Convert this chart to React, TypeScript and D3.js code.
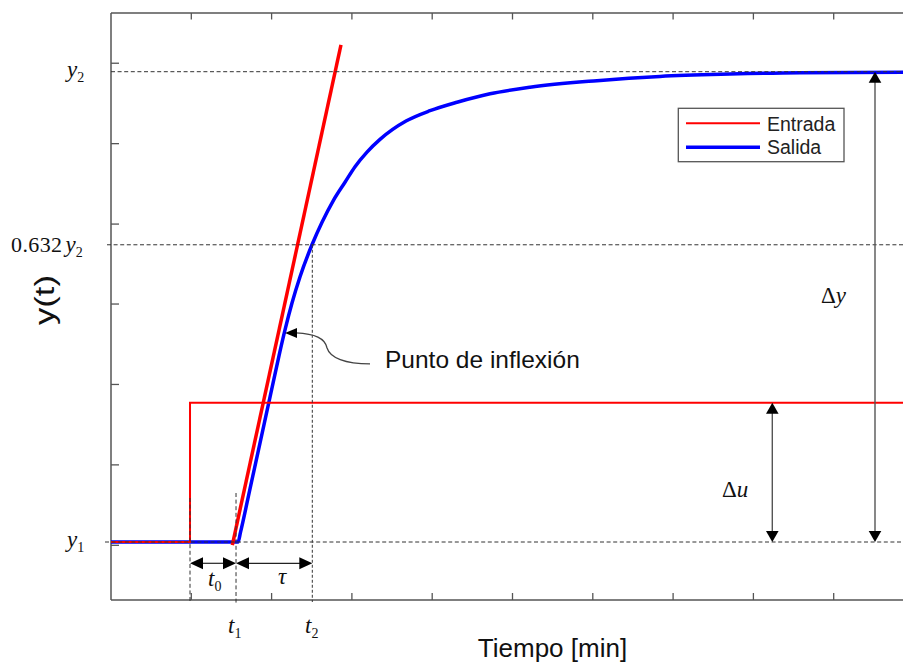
import React from "react";
import * as d3 from "d3";

// ---------- data (x in time-grid units, y normalised: y1 = 0, y2 = 1) ----------
const timeTicks = [1, 2, 3, 4, 5, 6, 7, 8, 9];
const levelTicks = [-0.007, 0.164, 0.335, 0.506, 0.676, 0.847, 1.018];

const outputTimes = [0, 1.582, 1.613, 1.731, 1.856, 1.98, 2.092, 2.167, 2.254, 2.354, 2.503, 2.628, 2.765, 2.914, 3.039, 3.188, 3.35, 3.674, 3.973, 4.309, 4.72, 5.218, 6.052, 6.837, 7.708, 8.58, 9.863, 10];
const outputValues = [0, 0, 0.021, 0.113, 0.211, 0.308, 0.396, 0.451, 0.508, 0.564, 0.632, 0.68, 0.725, 0.765, 0.798, 0.829, 0.856, 0.895, 0.917, 0.935, 0.953, 0.967, 0.981, 0.99, 0.995, 0.998, 0.999, 1];

const inputTimes = [0, 0.984, 0.984, 10];
const inputValues = [0, 0, 0.296, 0.296];

const tangentTimes = [1.511, 2.864];
const tangentValues = [-0.0064, 1.0568];

const t0 = 0.984;
const t1 = 1.557;
const t2 = 2.507;
const y1 = 0;
const y2 = 1;
const y632 = 0.632;
const inflectionIndex = 7;

const legendNames = ["Entrada", "Salida"];
const legendColors = ["#ff0000", "#0000ff"];
const legendWidths = [2, 3.5];

const W = 903;
const H = 664;
const serif = "'Liberation Serif', 'Times New Roman', serif";
const sans = "'Liberation Sans', Arial, Helvetica, sans-serif";

export default function App() {
  const x = d3.scaleLinear().domain([0, 10]).range([111, 914]);
  const y = d3.scaleLinear().domain([-0.1233, 1.1248]).range([600, 13]);

  const line = d3
    .line<[number, number]>()
    .x((d) => x(d[0]))
    .y((d) => y(d[1]));

  const outPts: [number, number][] = outputTimes.map((t, i) => [t, outputValues[i]]);
  const inPts: [number, number][] = inputTimes.map((t, i) => [t, inputValues[i]]);
  const tanPts: [number, number][] = tangentTimes.map((t, i) => [t, tangentValues[i]]);

  const outPath = d3
    .line<[number, number]>()
    .x((d) => x(d[0]))
    .y((d) => y(d[1]))
    .curve(d3.curveMonotoneX)(outPts) as string;

  const left = x(0);
  const right = W;
  const top = y(1.1248);
  const bottom = y(-0.1233);
  const axisColor = "#555";

  const xt0 = x(t0);
  const xt1 = x(t1);
  const xt2 = x(t2);
  const yy1 = y(y1);
  const yy2 = y(y2);
  const yy632 = y(y632);
  const yStep = y(inputValues[2]);

  const hArrow = (xa: number, xb: number, yy: number, key: string) => {
    const L = 13, hw = 6;
    return (
      <g key={key}>
        <line x1={xa + L - 1} x2={xb - L + 1} y1={yy} y2={yy} stroke="#222" strokeWidth={1.2} />
        <polygon points={`${xa},${yy} ${xa + L},${yy - hw} ${xa + L},${yy + hw}`} fill="#000" />
        <polygon points={`${xb},${yy} ${xb - L},${yy - hw} ${xb - L},${yy + hw}`} fill="#000" />
      </g>
    );
  };
  const vArrow = (xx: number, ya: number, yb: number, key: string) => {
    const L = 11, hw = 6.3;
    return (
      <g key={key}>
        <line x1={xx} x2={xx} y1={ya + L - 1} y2={yb - L + 1} stroke="#555" strokeWidth={1.4} />
        <polygon points={`${xx},${ya} ${xx - hw},${ya + L} ${xx + hw},${ya + L}`} fill="#000" />
        <polygon points={`${xx},${yb} ${xx - hw},${yb - L} ${xx + hw},${yb - L}`} fill="#000" />
      </g>
    );
  };

  const tipX = x(outputTimes[inflectionIndex]);
  const tipY = y(outputValues[inflectionIndex]) + 3;

  return (
    <svg
      width={W}
      height={H}
      style={{ position: "absolute", left: 0, top: 0, background: "#fff" }}
    >
      <rect x={0} y={0} width={W} height={H} fill="#fff" />

      {/* frame */}
      <line x1={left} x2={right} y1={top} y2={top} stroke={axisColor} strokeWidth={1.5} />
      <line x1={left} x2={right} y1={bottom} y2={bottom} stroke={axisColor} strokeWidth={1.5} />
      <line x1={left} x2={left} y1={top} y2={bottom} stroke={axisColor} strokeWidth={1.5} />
      {timeTicks.map((t) => (
        <g key={"xt" + t}>
          <line x1={x(t)} x2={x(t)} y1={top} y2={top + 6.5} stroke={axisColor} strokeWidth={1.3} />
          <line x1={x(t)} x2={x(t)} y1={bottom} y2={bottom - 7} stroke={axisColor} strokeWidth={1.3} />
        </g>
      ))}
      {levelTicks.map((v) => (
        <line key={"yt" + v} x1={left} x2={left + 8} y1={y(v)} y2={y(v)} stroke={axisColor} strokeWidth={1.3} />
      ))}

      {/* series */}
      <path d={outPath} fill="none" stroke="#0000ff" strokeWidth={3.5} />
      <path d={line(inPts) as string} fill="none" stroke="#ff0000" strokeWidth={2} />
      <path d={line(tanPts) as string} fill="none" stroke="#ff0000" strokeWidth={3.5} />

      {/* dashed reference lines */}
      <g stroke="#333" strokeWidth={1} strokeDasharray="4,2.6" fill="none">
        <line x1={left} x2={right} y1={yy2} y2={yy2} />
        <line x1={left - 4} x2={right} y1={yy632} y2={yy632} />
        <line x1={left - 6} x2={right} y1={yy1} y2={yy1} />
        <line x1={xt0} x2={xt0} y1={498} y2={bottom + 3} />
        <line x1={xt1} x2={xt1} y1={493} y2={bottom + 3} />
        <line x1={xt2} x2={xt2} y1={yy632} y2={bottom + 2} strokeDasharray="3,2" />
      </g>

      {/* dimension arrows */}
      {hArrow(xt0, xt1, 563.3, "a0")}
      {hArrow(xt1, xt2, 563.3, "a1")}
      {vArrow(772.3, yStep, yy1, "du")}
      {vArrow(875, yy2, yy1, "dy")}

      {/* annotation */}
      <path
        d={`M${tipX + 11},${tipY} C${tipX + 30},${tipY + 1} ${tipX + 40},${tipY + 5} ${tipX + 42},${tipY + 15} C${tipX + 45},${tipY + 25} ${tipX + 60},${tipY + 31} ${tipX + 85},${tipY + 31}`}
        fill="none"
        stroke="#444"
        strokeWidth={1.4}
      />
      <polygon points={`${tipX},${tipY} ${tipX + 12},${tipY - 5} ${tipX + 12},${tipY + 5}`} fill="#000" />
      <text x={385} y={368} fontFamily={sans} fontSize={24.5} fill="#111">
        Punto de inflexión
      </text>

      {/* y labels */}
      <text x={67} y={77} fontFamily={serif} fontSize={23} fill="#111">
        <tspan fontStyle="italic">y</tspan>
        <tspan fontSize={14} dy={5}>2</tspan>
      </text>
      <text x={11} y={252} fontFamily={serif} fontSize={22} fill="#111" letterSpacing={0.4}>
        0.632
        <tspan fontStyle="italic" fontSize={23} letterSpacing={0} dx={3}>y</tspan>
        <tspan fontSize={14} dy={5} letterSpacing={0}>2</tspan>
      </text>
      <text x={67} y={547} fontFamily={serif} fontSize={23} fill="#111">
        <tspan fontStyle="italic">y</tspan>
        <tspan fontSize={14} dy={5}>1</tspan>
      </text>

      {/* time labels */}
      <text x={208} y={586} fontFamily={serif} fontSize={23} fill="#111">
        <tspan fontStyle="italic">t</tspan>
        <tspan fontSize={14} dy={5}>0</tspan>
      </text>
      <text x={282} y={584} fontFamily={serif} fontSize={23} fill="#111" fontStyle="italic" textAnchor="middle">
        τ
      </text>
      <text x={228} y={633} fontFamily={serif} fontSize={23} fill="#111">
        <tspan fontStyle="italic">t</tspan>
        <tspan fontSize={14} dy={5}>1</tspan>
      </text>
      <text x={305} y={633} fontFamily={serif} fontSize={23} fill="#111">
        <tspan fontStyle="italic">t</tspan>
        <tspan fontSize={14} dy={5}>2</tspan>
      </text>

      {/* delta labels */}
      <text x={722} y={497} fontFamily={serif} fontSize={23} fill="#111">
        Δ<tspan fontStyle="italic">u</tspan>
      </text>
      <text x={821} y={303} fontFamily={serif} fontSize={23} fill="#111">
        Δ<tspan fontStyle="italic">y</tspan>
      </text>

      {/* axis titles */}
      <text x={552.5} y={657} fontFamily={sans} fontSize={26} fill="#111" textAnchor="middle">
        Tiempo [min]
      </text>
      <text
        transform="translate(54,300) rotate(-90)"
        fontFamily={sans}
        fontSize={27}
        fill="#111"
        textAnchor="middle"
        textLength={50}
        lengthAdjust="spacingAndGlyphs"
      >
        y(t)
      </text>

      {/* legend */}
      <rect x={678.3} y={108.3} width={165.7} height={53.4} fill="#fff" stroke="#555" strokeWidth={1.3} />
      {legendNames.map((name, i) => (
        <g key={name}>
          <line x1={686} x2={760} y1={123.3 + i * 24} y2={123.3 + i * 24} stroke={legendColors[i]} strokeWidth={legendWidths[i]} />
          <text x={767} y={131 + i * 23} fontFamily={sans} fontSize={19.5} fill="#222">
            {name}
          </text>
        </g>
      ))}
    </svg>
  );
}
